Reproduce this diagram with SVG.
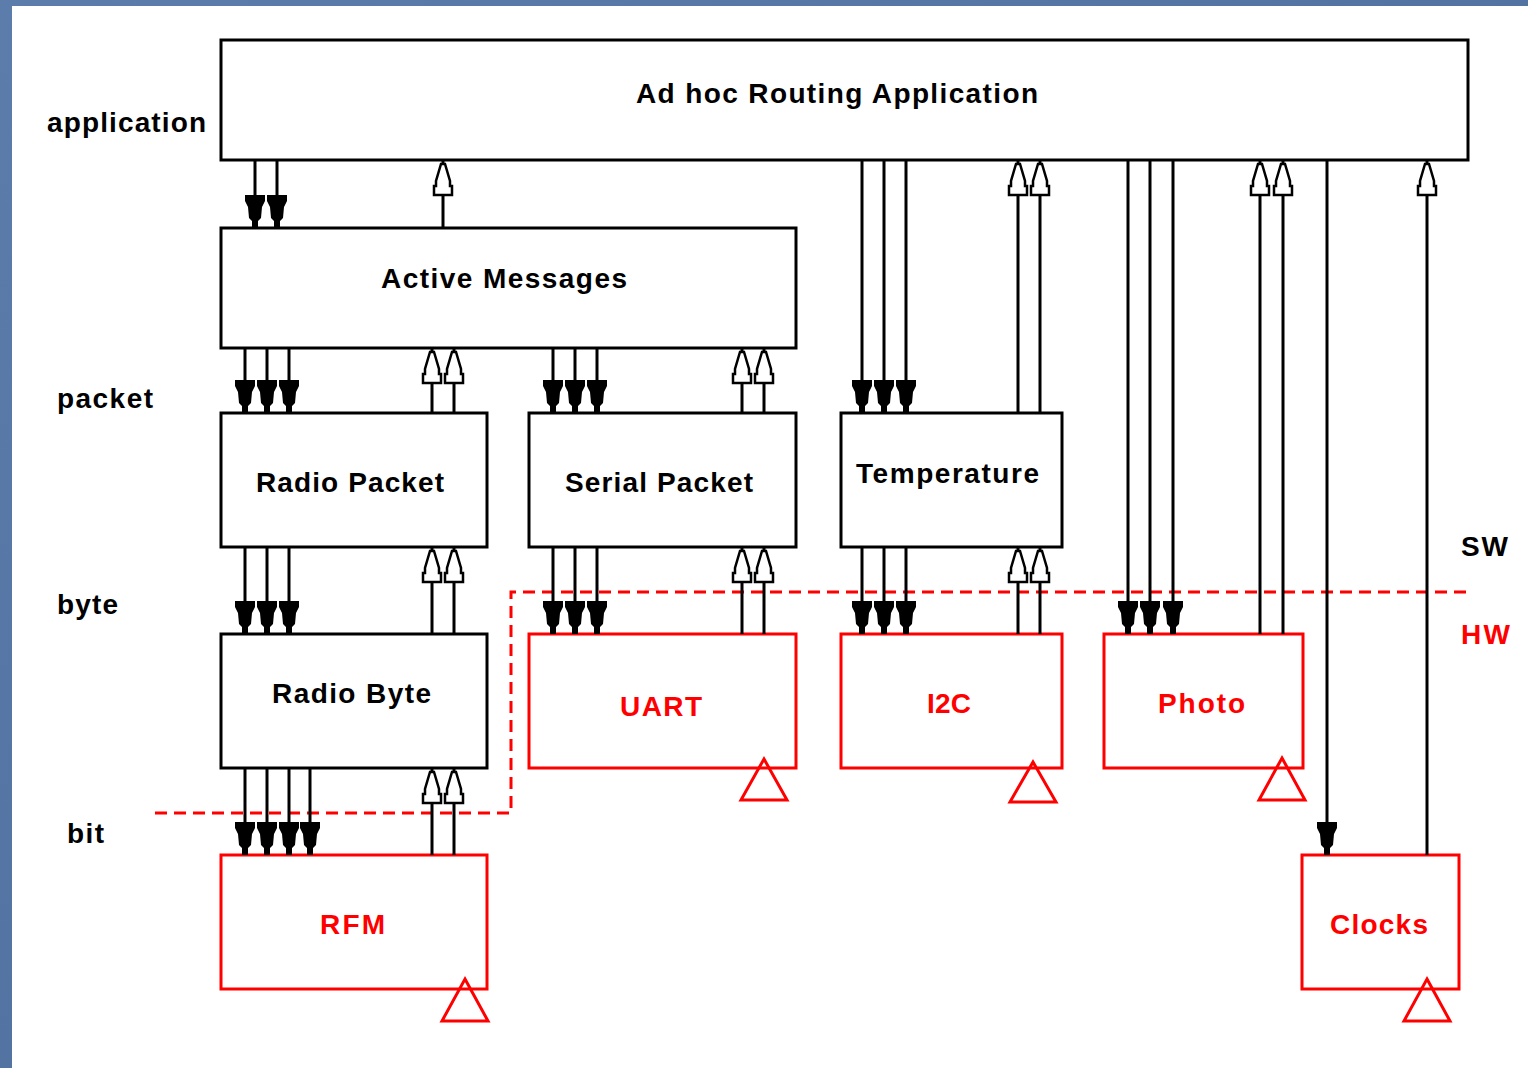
<svg xmlns="http://www.w3.org/2000/svg" xmlns:xlink="http://www.w3.org/1999/xlink" width="1528" height="1068" viewBox="0 0 1528 1068">
<style>
.box{fill:#fff;stroke:#000;stroke-width:3}
.hw{fill:#fff;stroke:#f00;stroke-width:3}
.t{font-family:"Liberation Sans",Arial,sans-serif;font-size:28px;font-weight:bold;fill:#000}
.r{fill:#f00}
.ln{stroke:#000;stroke-width:3;fill:none}
.tri{fill:none;stroke:#f00;stroke-width:3}
.dash{fill:none;stroke:#f00;stroke-width:3;stroke-dasharray:12 7}
</style>
<defs>
<path id="dn" d="M-10,-33 H10 V-27 L7,-21 L6,-10 L3,-7 V0 H-3 V-7 L-6,-10 L-7,-21 L-10,-27 Z" fill="#000"/>
<path id="up" d="M-2,0 L2,0 L7,17 L7,22 L9,22 L9,31 L-9,31 L-9,22 L-7,22 L-7,17 Z" fill="#fff" stroke="#000" stroke-width="2.5"/>
<linearGradient id="bg" x1="0" y1="0" x2="1" y2="1">
<stop offset="0" stop-color="#5c7dab"/>
<stop offset="1" stop-color="#4a6a98"/>
</linearGradient>
</defs>
<rect x="0" y="0" width="1528" height="1068" fill="url(#bg)"/>
<rect x="12" y="6" width="1516" height="1062" fill="#fff"/>

<g id="layer-labels">
<text class="t" x="47" y="132" textLength="159" lengthAdjust="spacing">application</text>
<text class="t" x="57" y="408" textLength="96" lengthAdjust="spacing">packet</text>
<text class="t" x="57" y="614" textLength="61" lengthAdjust="spacing">byte</text>
<text class="t" x="67" y="843" textLength="37" lengthAdjust="spacing">bit</text>
<text class="t" x="1461" y="556" textLength="47" lengthAdjust="spacing">SW</text>
<text class="t r" x="1461" y="644" textLength="49" lengthAdjust="spacing">HW</text>
</g>

<g id="hw-boundary">
<path class="dash" d="M155,813 H511 V592 H1468"/>
</g>

<g id="app"><rect class="box" x="221" y="40" width="1247" height="120"/>
<text class="t" x="636" y="103" textLength="402" lengthAdjust="spacing">Ad hoc Routing Application</text></g>
<g id="am"><rect class="box" x="221" y="228" width="575" height="120"/>
<text class="t" x="381" y="288" textLength="246" lengthAdjust="spacing">Active Messages</text></g>
<g id="radio-packet"><rect class="box" x="221" y="413" width="266" height="134"/>
<text class="t" x="256" y="492" textLength="188" lengthAdjust="spacing">Radio Packet</text></g>
<g id="serial-packet"><rect class="box" x="529" y="413" width="267" height="134"/>
<text class="t" x="565" y="492" textLength="188" lengthAdjust="spacing">Serial Packet</text></g>
<g id="temperature"><rect class="box" x="841" y="413" width="221" height="134"/>
<text class="t" x="856" y="483" textLength="183" lengthAdjust="spacing">Temperature</text></g>
<g id="radio-byte"><rect class="box" x="221" y="634" width="266" height="134"/>
<text class="t" x="272" y="703" textLength="159" lengthAdjust="spacing">Radio Byte</text></g>
<g id="uart"><rect class="hw" x="529" y="634" width="267" height="134"/>
<text class="t r" x="620" y="716" textLength="82" lengthAdjust="spacing">UART</text></g>
<g id="i2c"><rect class="hw" x="841" y="634" width="221" height="134"/>
<text class="t r" x="927" y="713" textLength="44" lengthAdjust="spacing">I2C</text></g>
<g id="photo"><rect class="hw" x="1104" y="634" width="199" height="134"/>
<text class="t r" x="1158" y="713" textLength="87" lengthAdjust="spacing">Photo</text></g>
<g id="rfm"><rect class="hw" x="221" y="855" width="266" height="134"/>
<text class="t r" x="320" y="934" textLength="65" lengthAdjust="spacing">RFM</text></g>
<g id="clocks"><rect class="hw" x="1302" y="855" width="157" height="134"/>
<text class="t r" x="1330" y="934" textLength="98" lengthAdjust="spacing">Clocks</text></g>

<g id="triangles">
<path class="tri" d="M465,979 L488,1021 L442,1021 Z"/>
<path class="tri" d="M764,759 L787,800 L741,800 Z"/>
<path class="tri" d="M1033,762 L1056,802 L1010,802 Z"/>
<path class="tri" d="M1282,758 L1305,800 L1259,800 Z"/>
<path class="tri" d="M1427,979 L1450,1021 L1404,1021 Z"/>
</g>

<g id="connectors">
<path class="ln" d="M255,160V228M277,160V228M443,160V228
M245,348V413M267,348V413M289,348V413M432,348V413M454,348V413
M553,348V413M575,348V413M597,348V413M742,348V413M764,348V413
M862,160V413M884,160V413M906,160V413M1018,160V413M1040,160V413
M245,547V634M267,547V634M289,547V634M432,547V634M454,547V634
M553,547V634M575,547V634M597,547V634M742,547V634M764,547V634
M862,547V634M884,547V634M906,547V634M1018,547V634M1040,547V634
M1128,160V634M1150,160V634M1173,160V634M1260,160V634M1283,160V634
M245,768V855M267,768V855M289,768V855M310,768V855M432,768V855M454,768V855
M1327,160V855M1427,160V855"/>
<use href="#dn" x="255" y="228"/><use href="#dn" x="277" y="228"/><use href="#up" x="443" y="164"/>
<use href="#dn" x="245" y="413"/><use href="#dn" x="267" y="413"/><use href="#dn" x="289" y="413"/>
<use href="#up" x="432" y="352"/><use href="#up" x="454" y="352"/>
<use href="#dn" x="553" y="413"/><use href="#dn" x="575" y="413"/><use href="#dn" x="597" y="413"/>
<use href="#up" x="742" y="352"/><use href="#up" x="764" y="352"/>
<use href="#dn" x="862" y="413"/><use href="#dn" x="884" y="413"/><use href="#dn" x="906" y="413"/>
<use href="#up" x="1018" y="164"/><use href="#up" x="1040" y="164"/>
<use href="#dn" x="245" y="634"/><use href="#dn" x="267" y="634"/><use href="#dn" x="289" y="634"/>
<use href="#up" x="432" y="551"/><use href="#up" x="454" y="551"/>
<use href="#dn" x="553" y="634"/><use href="#dn" x="575" y="634"/><use href="#dn" x="597" y="634"/>
<use href="#up" x="742" y="551"/><use href="#up" x="764" y="551"/>
<use href="#dn" x="862" y="634"/><use href="#dn" x="884" y="634"/><use href="#dn" x="906" y="634"/>
<use href="#up" x="1018" y="551"/><use href="#up" x="1040" y="551"/>
<use href="#dn" x="1128" y="634"/><use href="#dn" x="1150" y="634"/><use href="#dn" x="1173" y="634"/>
<use href="#up" x="1260" y="164"/><use href="#up" x="1283" y="164"/>
<use href="#dn" x="245" y="855"/><use href="#dn" x="267" y="855"/><use href="#dn" x="289" y="855"/><use href="#dn" x="310" y="855"/>
<use href="#up" x="432" y="772"/><use href="#up" x="454" y="772"/>
<use href="#dn" x="1327" y="855"/><use href="#up" x="1427" y="164"/>
</g>
</svg>
